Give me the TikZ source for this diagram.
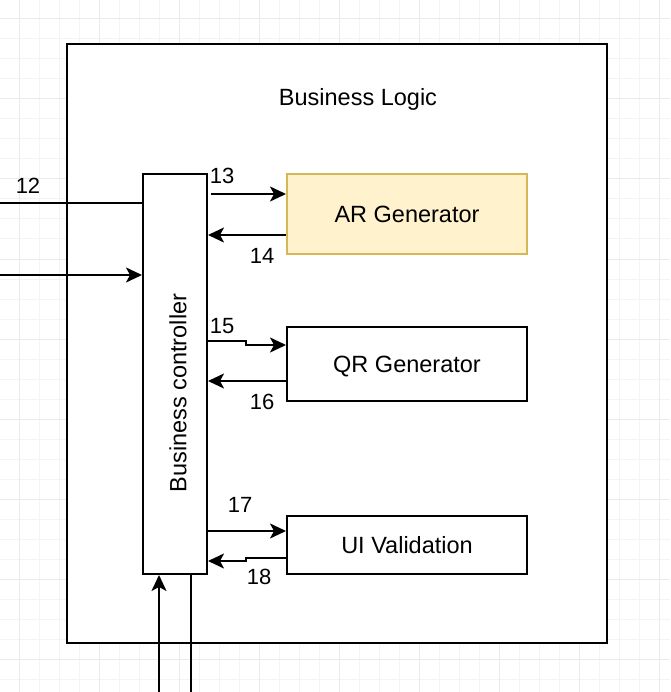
\documentclass[tikz,border=0pt]{standalone}
\usepackage{fontspec}
\setmainfont{Liberation Sans}
\usetikzlibrary{arrows.meta,calc}
\definecolor{arfill}{HTML}{FFF2CC}
\definecolor{arline}{HTML}{D6B656}
\definecolor{gridminor}{HTML}{F4F4F4}
\definecolor{gridmajor}{HTML}{EAEAEA}
\begin{document}
\begin{tikzpicture}[x=1pt,y=-1pt,
  box/.style={draw, line width=2pt, fill=white, inner sep=0pt, text height=17pt, text depth=0pt, font=\fontsize{23.5}{28}\selectfont},
  lbl/.style={font=\fontsize{22}{26}\selectfont, inner sep=0pt},
  wire/.style={line width=2pt},
  arr/.style={wire, -{Stealth[length=16pt,width=15pt,inset=4pt]}}]
\useasboundingbox (0,0) rectangle (670,692);
\fill[white] (0,0) rectangle (670,692);
% grid
\foreach \v in {19,39,...,679} {
  \draw[gridminor, line width=1pt] (\v,0) -- (\v,692);
  \draw[gridminor, line width=1pt] (0,\v) -- (670,\v);
}
\foreach \v in {19,99,...,679} {
  \draw[gridmajor, line width=1pt] (\v,0) -- (\v,692);
  \draw[gridmajor, line width=1pt] (0,\v) -- (670,\v);
}
% containers
\node[box, minimum width=540pt, minimum height=599pt] (bl) at (337,343.5) {};
\node[font=\fontsize{23.5}{28}\selectfont, anchor=base] (bltitle) at (358,106) {Business Logic};
\node[box, minimum width=64pt, minimum height=400pt] (ctrl) at (175,374) {};
\node[font=\fontsize{23.5}{28}\selectfont, rotate=90, inner sep=0pt] (ctrltext) at (178,393) {Business controller};
\node[box, fill=arfill, draw=arline, minimum width=240pt, minimum height=80pt] (ar) at (407,214) {AR Generator};
\node[box, minimum width=240pt, minimum height=74pt] (qr) at (407,364) {QR Generator};
\node[box, minimum width=240pt, minimum height=58pt] (ui) at (407,545) {UI Validation};
% outside ends
\coordinate (in12) at (0,203);
\coordinate (in2) at (0,275);
\coordinate (bot1) at (159,692);
\coordinate (bot2) at (191,692);
% 12
\draw[wire] (in12) -- (ctrl.west |- in12);
\draw[arr] (in2) -- (ctrl.west |- in2);
% 13 / 14
\coordinate (a13) at ([yshift=20pt]ar.west);
\coordinate (a14) at ([yshift=-21pt]ar.west);
\draw[arr] ([xshift=3pt]ctrl.east |- a13) -- (a13);
\draw[arr] (a14) -- (ctrl.east |- a14);
% 15 / 16
\coordinate (a15) at ([yshift=19pt]qr.west);
\coordinate (s15) at ([yshift=23pt,xshift=-40pt]qr.west);
\coordinate (a16) at ([yshift=-17pt]qr.west);
\draw[arr] (ctrl.east |- s15) -- (s15) |- (a15);
\draw[arr] (a16) -- (ctrl.east |- a16);
% 17 / 18
\coordinate (a17) at ([yshift=14pt]ui.west);
\coordinate (a18) at ([yshift=-13pt]ui.west);
\coordinate (s18) at ([yshift=-16pt,xshift=-40pt]ui.west);
\draw[arr] (ctrl.east |- a17) -- (a17);
\draw[arr] (a18) -| (s18) -- (ctrl.east |- s18);
% bottom
\draw[arr] (bot1) -- (ctrl.south -| bot1);
\draw[wire] (ctrl.south -| bot2) -- (bot2);
% labels
\node[lbl] (l12) at (28,186) {12};
\node[lbl] (l13) at (222,176) {13};
\node[lbl] (l14) at (262,256) {14};
\node[lbl] (l15) at (222,326) {15};
\node[lbl] (l16) at (262,402) {16};
\node[lbl] (l17) at (240,505) {17};
\node[lbl] (l18) at (259,577) {18};
\end{tikzpicture}
\end{document}
